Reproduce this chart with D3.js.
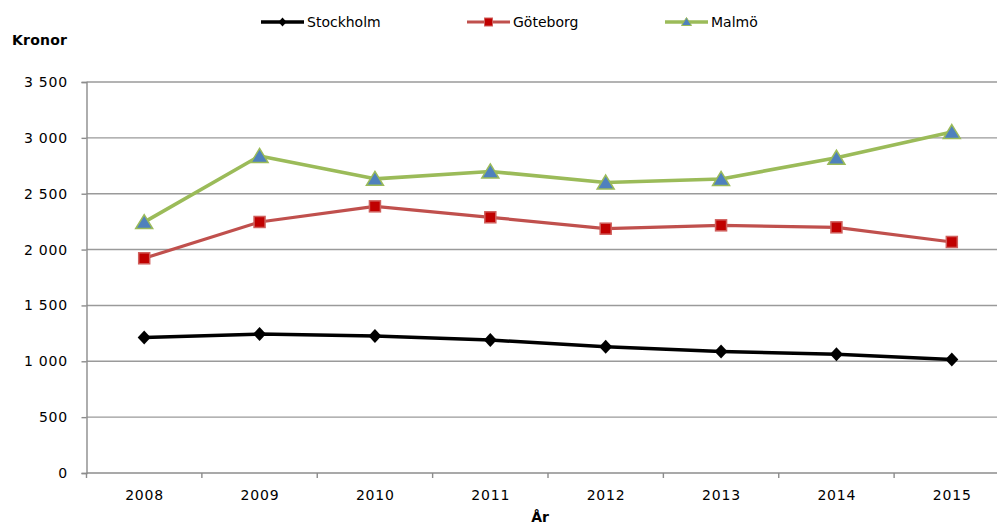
<!DOCTYPE html>
<html><head><meta charset="utf-8">
<script src="https://cdn.jsdelivr.net/npm/d3@7"></script>
<style>body{margin:0;background:#fff;} svg{display:block;} text{font-family:"DejaVu Sans",sans-serif;}</style>
</head><body>
<svg id="c" width="997" height="524"></svg>
<script>
const years = ["2008","2009","2010","2011","2012","2013","2014","2015"];
const stockholm = [1212, 1244, 1226, 1190, 1130, 1088, 1062, 1016];
const goteborg  = [1922, 2247, 2387, 2289, 2187, 2217, 2199, 2068];
const malmo     = [2246, 2838, 2633, 2699, 2600, 2632, 2822, 3052];
const yTicks = [0, 500, 1000, 1500, 2000, 2500, 3000, 3500];
const seriesNames = ["Stockholm", "Göteborg", "Malmö"];

const svg = d3.select("#c");
const plotLeft = 86.5, plotTop = 82, plotBottom = 473, bandRight = 1009.5;
const x = d3.scaleBand().domain(years).range([plotLeft, bandRight]);
const y = d3.scaleLinear().domain([0, 3500]).range([plotBottom, plotTop]);
const fmt = v => d3.format(",")(v).replace(/,/g, " ");

// gridlines
svg.append("g").selectAll("line").data(yTicks.filter(t => t > 0)).join("line")
  .attr("x1", plotLeft).attr("x2", 997).attr("y1", d => y(d)).attr("y2", d => y(d))
  .attr("stroke", "#9a9a9a").attr("stroke-width", 1.4);

// y axis
const ya = svg.append("g").attr("transform", `translate(${plotLeft},0)`)
  .call(d3.axisLeft(y).tickValues(yTicks).tickSize(5).tickPadding(13.5).tickFormat(fmt));
ya.select(".domain").attr("stroke", "#8c8c8c").attr("stroke-width", 1.4);
ya.selectAll(".tick line").attr("stroke", "#8c8c8c").attr("stroke-width", 1.4);
ya.selectAll("text").attr("font-size", 14).attr("font-family", "DejaVu Sans")
  .attr("letter-spacing", 0.8).attr("fill", "#000");

// x axis
const xa = svg.append("g").attr("transform", `translate(0,${plotBottom})`);
xa.append("line").attr("x1", plotLeft).attr("x2", 997).attr("y1", 0).attr("y2", 0)
  .attr("stroke", "#8c8c8c").attr("stroke-width", 1.4);
const boundaries = years.map(d => x(d)).concat([bandRight]);
xa.selectAll("line.tk").data(boundaries.filter(b => b <= 997)).join("line").attr("class", "tk")
  .attr("x1", d => d).attr("x2", d => d).attr("y1", 0).attr("y2", 5)
  .attr("stroke", "#8c8c8c").attr("stroke-width", 1.4);
xa.selectAll("text").data(years).join("text")
  .attr("x", d => x(d) + x.bandwidth() / 2 + 0.4).attr("y", 27)
  .attr("text-anchor", "middle").attr("font-size", 14).attr("letter-spacing", 0.8).text(d => d);

// axis titles
svg.append("text").attr("x", 12).attr("y", 45).attr("font-size", 14).attr("font-weight", "bold").attr("letter-spacing", 0.2).text("Kronor");
svg.append("text").attr("x", 540).attr("y", 522).attr("text-anchor", "middle").attr("font-size", 14).attr("font-weight", "bold").text("År");

const cx = d => x(d) + x.bandwidth() / 2;
const line = d3.line().x((d, i) => cx(years[i])).y(d => y(d));

const styles = [
  {data: stockholm, color: "#000000", w: 3.5, marker: "diamond"},
  {data: goteborg, color: "#c0504d", w: 3.2, marker: "square"},
  {data: malmo, color: "#9bbb59", w: 3.6, marker: "triangle"}
];

function drawMarker(g, type, px, py) {
  if (type === "diamond") {
    g.append("path").attr("d", `M${px},${py-7}L${px+6.5},${py}L${px},${py+7}L${px-6.5},${py}Z`).attr("fill", "#000");
  } else if (type === "square") {
    g.append("rect").attr("x", px-5.5).attr("y", py-5.5).attr("width", 11).attr("height", 11)
      .attr("fill", "#c00000").attr("stroke", "#d0605d").attr("stroke-width", 1.5);
  } else {
    g.append("path").attr("d", `M${px},${py-7.5}L${px+8.5},${py+6.5}L${px-8.5},${py+6.5}Z`)
      .attr("fill", "#4f81bd").attr("stroke", "#9bbb59").attr("stroke-width", 1.5);
  }
}

styles.forEach(s => {
  svg.append("path").datum(s.data).attr("d", line).attr("fill", "none")
    .attr("stroke", s.color).attr("stroke-width", s.w).attr("stroke-linejoin", "round");
});
styles.forEach(s => {
  const g = svg.append("g");
  s.data.forEach((v, i) => drawMarker(g, s.marker, cx(years[i]), y(v)));
});

// legend
const legendX = [261, 467, 665];
seriesNames.forEach((n, i) => {
  const g = svg.append("g");
  const s = styles[i];
  const lx = legendX[i], ly = 22;
  g.append("line").attr("x1", lx).attr("x2", lx + 43).attr("y1", ly).attr("y2", ly)
    .attr("stroke", s.color).attr("stroke-width", s.w);
  const mx = lx + 21.5;
  if (s.marker === "diamond") {
    g.append("path").attr("d", `M${mx},${ly-4.5}L${mx+4},${ly}L${mx},${ly+4.5}L${mx-4},${ly}Z`).attr("fill", "#000");
  } else if (s.marker === "square") {
    g.append("rect").attr("x", mx-4).attr("y", ly-4).attr("width", 8).attr("height", 8)
      .attr("fill", "#c00000").attr("stroke", "#d0605d").attr("stroke-width", 1);
  } else {
    g.append("path").attr("d", `M${mx},${ly-4.5}L${mx+5},${ly+3.5}L${mx-5},${ly+3.5}Z`)
      .attr("fill", "#4f81bd").attr("stroke", "#9bbb59").attr("stroke-width", 1);
  }
  g.append("text").attr("x", lx + 46).attr("y", ly + 5).attr("font-size", 14).text(n);
});
</script>
</body></html>
